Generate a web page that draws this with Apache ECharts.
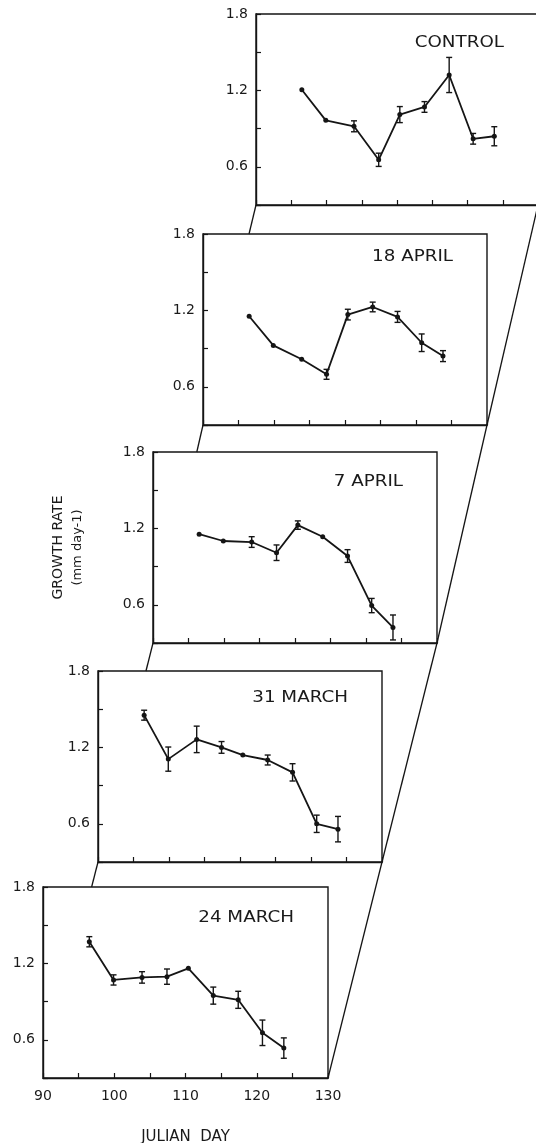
<!DOCTYPE html>
<html><head><meta charset="utf-8">
<script src="https://cdn.jsdelivr.net/npm/echarts@6/dist/echarts.min.js"></script>
<style>html,body{margin:0;padding:0;background:#fff}#c{width:536px;height:1143px}</style>
</head><body><div id="c"></div>
<script>
// ---- data ----
const days = [96.5, 99.9, 103.9, 107.4, 110.4, 113.9, 117.4, 120.8, 123.8];
const panelNames = ['CONTROL', '18 APRIL', '7 APRIL', '31 MARCH', '24 MARCH'];
const controlVals = [1.205, 0.965, 0.918, 0.655, 1.010, 1.070, 1.321, 0.820, 0.840];
const controlErr  = [0, 0, 0.043, 0.052, 0.063, 0.042, 0.138, 0.042, 0.075];
const apr18Vals = [1.154, 0.925, 0.816, 0.698, 1.167, 1.227, 1.149, 0.946, 0.841];
const apr18Err  = [0, 0, 0, 0.039, 0.042, 0.038, 0.043, 0.069, 0.043];
const apr7Vals = [1.155, 1.101, 1.093, 1.009, 1.226, 1.134, 0.983, 0.594, 0.422];
const apr7Err  = [0, 0, 0.042, 0.061, 0.033, 0, 0.050, 0.056, 0.098];
const mar31Vals = [1.453, 1.108, 1.263, 1.200, 1.140, 1.101, 1.004, 0.600, 0.558];
const mar31Err  = [0.039, 0.095, 0.104, 0.046, 0, 0.039, 0.068, 0.068, 0.100];
const mar24Vals = [1.370, 1.070, 1.090, 1.096, 1.161, 0.947, 0.914, 0.655, 0.535];
const mar24Err  = [0.040, 0.040, 0.045, 0.060, 0, 0.067, 0.067, 0.100, 0.080];
const xTickLabels = [90, 100, 110, 120, 130];
const yTickLabels = [0.6, 1.2, 1.8];
const xName = 'JULIAN  DAY';
const yName1 = 'GROWTH RATE';
const yName2 = '(mm day-1)';

const allVals = [controlVals, apr18Vals, apr7Vals, mar31Vals, mar24Vals];
const allErr = [controlErr, apr18Err, apr7Err, mar31Err, mar24Err];

// ---- layout ----
const panelLeft = [256, 203, 153, 98, 43];
const panelTop = [14, 234, 452, 671, 887];
const panelW = [282, 284, 284, 284, 285];
const panelH = 191;
const titleDy = [29, 23, 30, 27, 31];
const FONT = 'DejaVu Sans';
const INK = '#151515';

const chart = echarts.init(document.getElementById('c'), null, {renderer: 'canvas'});

const grids = [], xAxes = [], yAxes = [], series = [];
for (let i = 0; i < 5; i++) {
  const last = i === 4;
  grids.push({left: panelLeft[i], top: panelTop[i], width: panelW[i], height: panelH,
    containLabel: false, outerBoundsMode: 'none',
    show: true, borderColor: INK, borderWidth: 1.4, backgroundColor: '#fff'});
  xAxes.push({type: 'value', gridIndex: i, min: 90, max: 130, interval: 5,
    axisLine: {show: true, onZero: false, lineStyle: {color: INK, width: 1.4}},
    axisTick: {show: true, inside: true, length: 5, lineStyle: {color: INK, width: 1.2}},
    splitLine: {show: false},
    axisLabel: {show: last, margin: 11, color: '#1a1a1a', fontSize: 14, fontFamily: FONT,
      formatter: v => xTickLabels.some(t => Math.abs(t - v) < 1e-6) ? String(Math.round(v)) : ''},
    name: last ? xName : '', nameLocation: 'middle', nameGap: 52,
    nameTextStyle: {color: '#1a1a1a', fontSize: 15, fontFamily: FONT}
  });
  yAxes.push({type: 'value', gridIndex: i, min: 0.3, max: 1.8, interval: 0.3,
    axisLine: {show: true, onZero: false, lineStyle: {color: INK, width: 1.4}},
    axisTick: {show: true, inside: true, length: 5, lineStyle: {color: INK, width: 1.2}},
    splitLine: {show: false},
    axisLabel: {show: true, margin: 8, color: '#1a1a1a', fontSize: 14, fontFamily: FONT,
      formatter: v => yTickLabels.some(t => Math.abs(t - v) < 1e-6) ? v.toFixed(1) : ''},
    name: i === 2 ? '{a|' + yName1 + '}\n{b|' + yName2 + '}' : '',
    nameLocation: 'middle', nameGap: 66, nameRotate: 90,
    nameTextStyle: {color: '#1a1a1a', fontFamily: FONT, lineHeight: 19,
      rich: {a: {fontSize: 14, fontFamily: FONT, color: '#1a1a1a', lineHeight: 19},
             b: {fontSize: 13, fontFamily: FONT, color: '#1a1a1a', lineHeight: 19}}}
  });
  const vals = allVals[i], errs = allErr[i];
  series.push({type: 'line', xAxisIndex: i, yAxisIndex: i, z: 3,
    data: days.map((d, j) => [d, vals[j]]),
    symbol: 'circle', symbolSize: 5, showSymbol: true,
    lineStyle: {color: INK, width: 1.8}, itemStyle: {color: INK},
    emphasis: {disabled: true}, animation: false
  });
  series.push({type: 'custom', xAxisIndex: i, yAxisIndex: i, z: 4,
    data: days.map((d, j) => [d, vals[j] - errs[j], vals[j] + errs[j]]).filter((r, j) => errs[j] > 0),
    encode: {x: 0, y: [1, 2]},
    renderItem: function (params, api) {
      const x = api.value(0), lo = api.value(1), hi = api.value(2);
      const a = api.coord([x, hi]), b = api.coord([x, lo]);
      const w = 3;
      const st = {stroke: INK, lineWidth: 1.4};
      return {type: 'group', children: [
        {type: 'line', shape: {x1: a[0], y1: a[1], x2: b[0], y2: b[1]}, style: st},
        {type: 'line', shape: {x1: a[0] - w, y1: a[1], x2: a[0] + w, y2: a[1]}, style: st},
        {type: 'line', shape: {x1: b[0] - w, y1: b[1], x2: b[0] + w, y2: b[1]}, style: st}
      ]};
    },
    animation: false
  });
}

chart.setOption({
  animation: false,
  backgroundColor: '#fff',
  textStyle: {fontFamily: FONT},
  grid: grids, xAxis: xAxes, yAxis: yAxes, series: series
});

// connecting lines & panel titles, placed from the axes' own pixel mapping
const graphics = [];
const corner = (i, x, y) => chart.convertToPixel({gridIndex: i}, [x, y]);
for (let i = 0; i < 5; i++) {
  const tr = corner(i, 130, 1.8);
  graphics.push({type: 'text', x: tr[0] - 34, y: tr[1] + titleDy[i], scaleX: 1.22, z: 10,
    style: {text: panelNames[i], fill: '#1a1a1a', font: '15px "DejaVu Sans"',
      textAlign: 'right', textVerticalAlign: 'middle', align: 'right', verticalAlign: 'middle'}});
  if (i < 4) {
    const bl = corner(i, 90, 0.3), br = corner(i, 130, 0.3);
    const bl2 = corner(i + 1, 90, 0.3), br2 = corner(i + 1, 130, 0.3);
    const tl2 = corner(i + 1, 90, 1.8);
    const t = (tl2[1] - bl[1]) / (bl2[1] - bl[1]);
    const ix = bl[0] + t * (bl2[0] - bl[0]);
    graphics.push({type: 'line', z: 1, shape: {x1: bl[0], y1: bl[1], x2: ix, y2: tl2[1]},
      style: {stroke: INK, lineWidth: 1.3}});
    graphics.push({type: 'line', z: 1, shape: {x1: br[0], y1: br[1], x2: br2[0], y2: br2[1]},
      style: {stroke: INK, lineWidth: 1.3}});
  }
}
chart.setOption({graphic: graphics});
</script>
</body></html>
